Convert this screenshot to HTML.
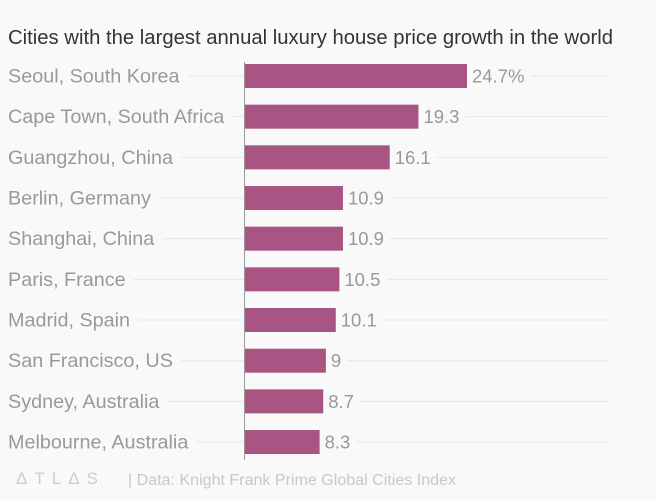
<!DOCTYPE html>
<html><head><meta charset="utf-8"><style>
html,body{margin:0;padding:0;background:#f9f9f9;}
svg{display:block;font-family:"Liberation Sans",sans-serif;}
</style></head><body>
<svg id="chart" width="656" height="500">
<rect width="656" height="500" fill="#f9f9f9"/>
<text x="8" y="44" font-size="20" fill="#333" textLength="605" lengthAdjust="spacingAndGlyphs">Cities with the largest annual luxury house price growth in the world</text>
<g id="grid"></g><g id="bars"></g>
<line x1="244.5" y1="62" x2="244.5" y2="460" stroke="#999" stroke-width="1"/>
<text x="16" y="484" font-size="17" fill="#ccc" letter-spacing="7">ΔTLΔS</text>
<text x="128" y="485" font-size="15.5" fill="#c8c8c8" textLength="328" lengthAdjust="spacingAndGlyphs">| Data: Knight Frank Prime Global Cities Index</text>
</svg>
<script>
const categories=["Seoul, South Korea","Cape Town, South Africa","Guangzhou, China","Berlin, Germany","Shanghai, China","Paris, France","Madrid, Spain","San Francisco, US","Sydney, Australia","Melbourne, Australia"];
const values=[24.7,19.3,16.1,10.9,10.9,10.5,10.1,9,8.7,8.3];
const valueLabels=["24.7%","19.3","16.1","10.9","10.9","10.5","10.1","9","8.7","8.3"];
const NS="http://www.w3.org/2000/svg";
const x0=245, scale=(467-245)/24.7;
const xPos=v=>x0+v*scale;
const yCenter=i=>76+i*40.67;
const bars=document.getElementById('bars'), grid=document.getElementById('grid');
function mk(t,a,p){const e=document.createElementNS(NS,t);for(const k in a)e.setAttribute(k,a[k]);p.appendChild(e);return e;}
categories.forEach((c,i)=>{
  const y=yCenter(i);
  const lab=mk('text',{x:8,y:y+6.5,'font-size':19.8,fill:'#999'},bars);
  lab.textContent=c;
  
  
  const lw=lab.getComputedTextLength();
  const g1=mk('line',{x1:8+lw+8,x2:x0,y1:y,y2:y,stroke:'#e8e8e8'},grid);
  
  
  const r=mk('rect',{x:x0,y:y-12,width:xPos(values[i])-x0,height:24,fill:'#a85583'},bars);
  
  
  const vl=mk('text',{x:xPos(values[i])+5,y:y+6.5,'font-size':18.5,fill:'#999'},bars);
  vl.textContent=valueLabels[i];
  
  
  const vw=vl.getComputedTextLength();
  const g2=mk('line',{x1:xPos(values[i])+5+vw+6,x2:608,y1:y,y2:y,stroke:'#e8e8e8'},grid);
  
  
});
</script>
</body></html>
